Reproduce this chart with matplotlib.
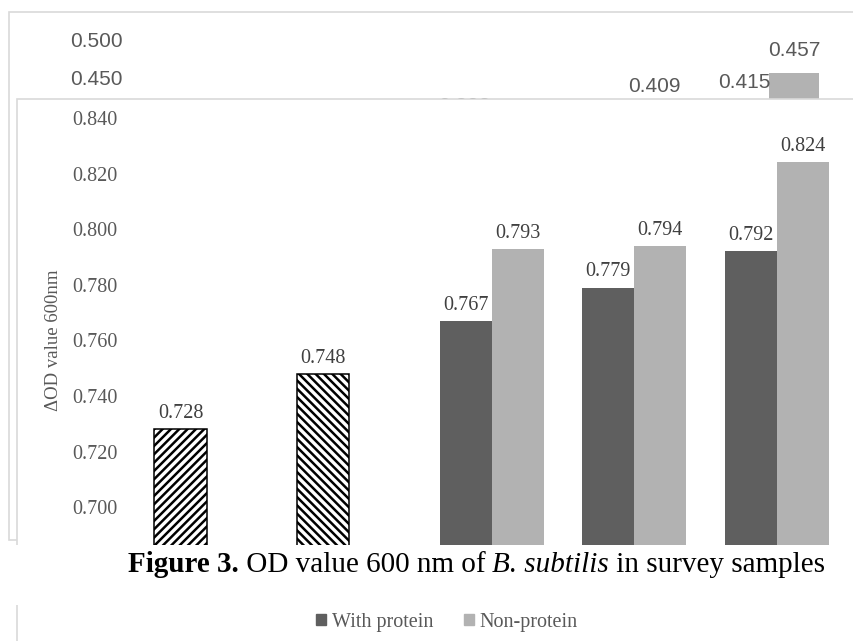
import matplotlib
matplotlib.use("Agg")
import matplotlib.pyplot as plt
import numpy as np
from matplotlib.patches import Rectangle

# front chart: OD 600 nm, five samples
samples = ["S1", "S2", "S3", "S4", "S5"]
with_protein = [0.728, 0.748, 0.767, 0.779, 0.792]
non_protein = [None, None, 0.793, 0.794, 0.824]
hatches = ["////", "\\\\\\\\", None, None, None]
y_ticks = [0.680, 0.700, 0.720, 0.740, 0.760, 0.780, 0.800, 0.820, 0.840]

# chart lying behind (only its top strip shows)
back_dark = [None, None, 0.383, None, 0.415]
back_light = [None, None, None, 0.409, 0.457]
back_ticks = [0.45, 0.50]

legend_labels = ["With protein", "Non-protein"]
caption = [("Figure 3.", "bold", "normal"),
           (" OD value 600 nm of ", "normal", "normal"),
           ("B. subtilis", "normal", "italic"),
           (" in survey samples", "normal", "normal")]

DARK = "#5f5f5f"
LIGHT = "#b2b2b2"
BORDER = "#d9d9d9"

plt.rcParams["font.family"] = ["Liberation Serif", "DejaVu Serif"]
plt.rcParams["hatch.linewidth"] = 1.8

W, H = 854, 641
fig = plt.figure(figsize=(W / 100, H / 100), dpi=100)


def fx(x):
    return x / W


def fy(y):
    return 1 - y / H


# ---- back chart ----
fig.add_artist(Rectangle((fx(9), fy(540)), 2, fy(12) - fy(540), transform=fig.transFigure,
                         facecolor="white", edgecolor=BORDER, lw=1.2, zorder=0.1))
bax = fig.add_axes([fx(139), fy(420), 700 / W, (420 - 12) / H], zorder=0.2)
bax.set_facecolor("none")
bax.set_xlim(-0.5, 4.5)
bax.set_ylim(0, 0.5368)
bw = 0.357
sans = ["Liberation Sans Narrow", "Liberation Sans", "DejaVu Sans"]
for i in range(len(samples)):
    for val, off, col in ((back_dark[i], -bw / 2, DARK), (back_light[i], bw / 2, LIGHT)):
        if val is None:
            continue
        bax.bar(i + off, val, width=bw, color=col)
        bax.annotate(f"{val:.3f}", (i + off, val), xytext=(0, 16), textcoords="offset points",
                     ha="center", va="center", fontsize=15, color="#595959", family=sans)
bax.set_yticks(back_ticks)
bax.set_yticklabels([f"{t:.3f}" for t in back_ticks], family=sans, fontsize=15, color="#595959")
bax.tick_params(axis="y", length=0, pad=11.5)
bax.set_xticks([])
for s in bax.spines.values():
    s.set_visible(False)

# ---- front chart ----
fig.add_artist(Rectangle((fx(17), fy(700)), 2, fy(99) - fy(700), transform=fig.transFigure,
                         facecolor="white", edgecolor=BORDER, lw=1.2, zorder=1))
ax = fig.add_axes([fx(135.2), fy(563), (848.3 - 135.2) / W, (563 - 99) / H], zorder=2)
ax.set_facecolor("none")
ax.set_xlim(-0.5, 4.5)
ax.set_ylim(0.68, 0.8468)

w = 0.365
x = np.arange(len(samples))
for i in x:
    if hatches[i]:
        ax.bar(i - w / 2, with_protein[i], width=w, bottom=0, facecolor="white",
               edgecolor="black", hatch=hatches[i], lw=1.1)
    else:
        ax.bar(i - w / 2, with_protein[i], width=w, color=DARK)
    ax.annotate(f"{with_protein[i]:.3f}", (i - w / 2, with_protein[i]), xytext=(0, 8),
                textcoords="offset points", ha="center", va="baseline",
                fontsize=14.5, color="#404040")
    if non_protein[i] is not None:
        ax.bar(i + w / 2, non_protein[i], width=w, color=LIGHT)
        ax.annotate(f"{non_protein[i]:.3f}", (i + w / 2, non_protein[i]), xytext=(0, 8),
                    textcoords="offset points", ha="center", va="baseline",
                    fontsize=14.5, color="#404040")

ax.set_yticks(y_ticks)
ax.set_yticklabels([f"{t:.3f}" for t in y_ticks], fontsize=14.5, color="#595959")
ax.tick_params(axis="y", length=0, pad=13)
ax.set_xticks([])
for s in ax.spines.values():
    s.set_visible(False)
ax.set_ylabel("ΔOD value 600nm", fontsize=13.5, color="#595959", va="center")
ax.yaxis.set_label_coords((53 - 135.2) / 713.1, (563 - 340) / 464)

# caption strip over the chart
fig.add_artist(Rectangle((0, fy(605)), 1, fy(545) - fy(605), transform=fig.transFigure,
                         facecolor="white", edgecolor="none", zorder=3))

# caption pieces laid out one after another, centred as a whole
renderer = fig.canvas.get_renderer()
parts = []
for txt, wt, st in caption:
    t = fig.text(0, fy(572), txt, fontsize=21, weight=wt, style=st, color="black",
                 ha="left", va="baseline", zorder=4)
    parts.append(t)
widths = [t.get_window_extent(renderer).width for t in parts]
x0 = 476.5 - sum(widths) / 2
for t, wd in zip(parts, widths):
    t.set_x(fx(x0))
    x0 += wd

handles = [Rectangle((0, 0), 1, 1, color=DARK), Rectangle((0, 0), 1, 1, color=LIGHT)]
leg = fig.legend(handles, legend_labels, loc="center", bbox_to_anchor=(fx(447), fy(622)),
                 ncol=2, frameon=False, handlelength=0.5, handleheight=0.5,
                 handletextpad=0.3, columnspacing=1.5, fontsize=14.5, labelcolor="#595959")
leg.set_zorder(5)

fig.savefig("out.png", dpi=100)
